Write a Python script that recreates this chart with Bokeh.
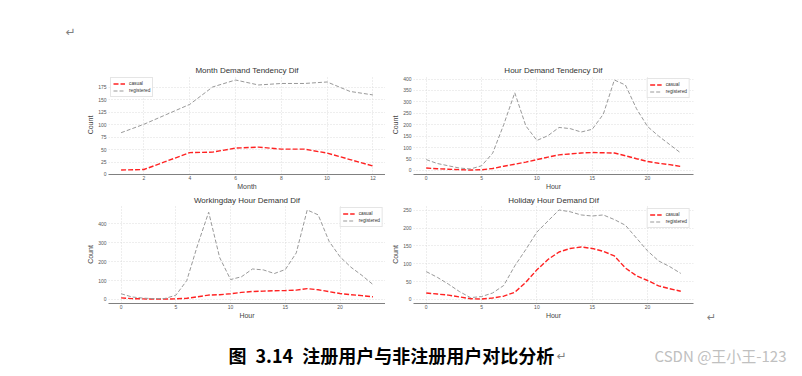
from bokeh.plotting import figure
from bokeh.models import Range1d, FixedTicker, Spacer
from bokeh.layouts import row, column
from bokeh.core.properties import value
from bokeh.embed import file_html
from bokeh.resources import INLINE

# ---------------- data ----------------
months = [1, 2, 3, 4, 5, 6, 7, 8, 9, 10, 11, 12]
month_casual = [9, 10, 27, 44, 45, 53, 55, 51, 51, 43, 30, 17]
month_registered = [84, 101, 121, 141, 176, 190, 180, 183, 183, 186, 167, 160]

hours = list(range(24))
hour_casual = [10, 7, 5, 3, 1.5, 2.5, 8, 18, 27, 36, 47, 58, 68, 72, 76, 78, 77, 76, 64, 51, 39, 31, 25, 17]
hour_registered = [47, 30, 20, 10, 6, 20, 75, 200, 340, 195, 131, 152, 188, 183, 168, 180, 246, 396, 374, 270, 192, 150, 113, 76]

workingday_casual = [8, 4, 3, 2, 2, 3, 6, 14, 23, 25, 30, 37, 42, 44, 46, 47, 49, 57, 51, 41, 31, 25, 20, 14]
workingday_registered = [30, 13, 7, 4, 5, 22, 100, 290, 461, 222, 105, 120, 161, 156, 137, 158, 246, 473, 447, 307, 225, 170, 127, 79]

holiday_casual = [18, 15, 12, 7, 2, 1, 4, 9, 20, 48, 83, 112, 133, 143, 147, 143, 135, 122, 88, 66, 53, 38, 30, 23]
holiday_registered = [78, 62, 43, 22, 5, 8, 18, 39, 94, 140, 189, 220, 251, 246, 237, 234, 237, 224, 208, 172, 136, 108, 92, 73]

month_ticks = [2, 4, 6, 8, 10, 12]
hour_ticks = [0, 5, 10, 15, 20]
tl_yticks = [0, 25, 50, 75, 100, 125, 150, 175]
tr_yticks = [0, 50, 100, 150, 200, 250, 300, 350, 400]
bl_yticks = [0, 100, 200, 300, 400]
br_yticks = [0, 50, 100, 150, 200, 250]

titles = ["Month Demand Tendency Dif", "Hour Demand Tendency Dif",
          "Workingday Hour Demand Dif", "Holiday Hour Demand Dif"]
caption = "图\u20023.14\u2002注册用户与非注册用户对比分析"
watermark = "CSDN @王小王-123"

FONT = "Liberation Sans"


def chart(width, height, bl, br, bt, bb, xs, casual, registered, title,
          xlabel, xticks, yticks, leg_loc, leg_margin):
    dx = max(xs) - min(xs)
    allv = list(casual) + list(registered)
    dy = max(allv) - min(allv)
    p = figure(width=width, height=height,
               x_range=Range1d(min(xs) - 0.05 * dx, max(xs) + 0.05 * dx),
               y_range=Range1d(min(allv) - 0.05 * dy, max(allv) + 0.05 * dy),
               output_backend="svg", toolbar_location=None,
               min_border_left=bl, min_border_right=br,
               min_border_top=bt, min_border_bottom=bb, title=title)
    p.title.align = "center"
    p.title.text_font = FONT
    p.title.text_font_size = "8px"
    p.title.text_font_style = "normal"
    p.title.text_color = "#333333"
    p.title.standoff = 1
    p.title.offset = 0
    p.outline_line_color = None
    p.background_fill_color = "white"

    p.xaxis.ticker = FixedTicker(ticks=xticks)
    p.yaxis.ticker = FixedTicker(ticks=yticks)
    p.xgrid.ticker = FixedTicker(ticks=xticks)
    p.ygrid.ticker = FixedTicker(ticks=yticks)
    for g in (p.xgrid, p.ygrid):
        g.grid_line_color = "#d4d4d4"
        g.grid_line_dash = "1 2"
        g.grid_line_width = 0.8

    for ax in (p.xaxis, p.yaxis):
        ax.major_tick_line_color = None
        ax.minor_tick_line_color = None
        ax.major_tick_out = 0
        ax.major_tick_in = 0
        ax.major_label_text_font = FONT
        ax.major_label_text_font_size = "5px"
        ax.major_label_text_color = "#555555"
        ax.axis_label_text_font = FONT
        ax.axis_label_text_font_size = "7px"
        ax.axis_label_text_font_style = "normal"
        ax.axis_label_text_color = "#444444"
    p.xaxis.axis_label = xlabel
    p.xaxis.axis_line_color = "#808080"
    p.xaxis.axis_line_width = 1.2
    p.xaxis.major_label_standoff = 1
    p.xaxis.axis_label_standoff = 0
    p.yaxis.axis_label = "Count"
    p.yaxis.axis_line_color = None
    p.yaxis.major_label_standoff = 2
    p.yaxis.axis_label_standoff = 1

    p.line(xs, casual, color="#ff2222", line_width=1.4, line_dash="5 2",
           legend_label="casual")
    p.line(xs, registered, color="#999999", line_width=1.0, line_dash="4 2",
           legend_label="registered")

    lg = p.legend[0]
    lg.location = leg_loc
    lg.margin = leg_margin
    lg.label_text_font = FONT
    lg.label_text_font_size = "4.8px"
    lg.label_text_color = "#333333"
    lg.label_height = 7
    lg.glyph_height = 7
    lg.glyph_width = 12
    lg.label_standoff = 4
    lg.padding = 2
    lg.spacing = 0
    lg.border_line_color = "#cccccc"
    lg.border_line_width = 0.8
    lg.background_fill_alpha = 0.9
    return p


def text_fig(w, h):
    p = figure(width=w, height=h, x_range=Range1d(0, w), y_range=Range1d(h, 0),
               x_axis_type=None, y_axis_type=None, output_backend="svg",
               toolbar_location=None, min_border=0, min_border_left=0,
               min_border_right=0, min_border_top=0, min_border_bottom=0)
    p.outline_line_color = None
    return p


# ---------------- layout ----------------
top = text_fig(802, 62)
top.text(x=[70], y=[31], text=["↵"], text_font=value("DejaVu Sans"),
         text_font_size="12px", text_color="#808080", text_align="center",
         text_baseline="middle")

H1, H2, H3 = 131, 131, 52
tl = chart(307, H1, 30, 0, 13, 19, months, month_casual, month_registered,
           titles[0], "Month", month_ticks, tl_yticks, "top_left", 2)
tr = chart(310, H1, 28, 2, 13, 19, hours, hour_casual, hour_registered,
           titles[1], "Hour", hour_ticks, tr_yticks, "top_right", 3)
bl = chart(307, H2, 30, 0, 11, 21, hours, workingday_casual, workingday_registered,
           titles[2], "Hour", hour_ticks, bl_yticks, "top_right", 2)
br = chart(310, H2, 28, 2, 11, 21, hours, holiday_casual, holiday_registered,
           titles[3], "Hour", hour_ticks, br_yticks, "top_right", 3)

side = text_fig(107, H2)
side.text(x=[16], y=[124], text=["↵"], text_font=value("DejaVu Sans"),
          text_font_size="11px", text_color="#808080", text_align="center",
          text_baseline="middle")

bottom = text_fig(802, H3)
bottom.text(x=[228], y=[30], text=[caption], text_font=value("Noto Sans CJK SC"),
            text_font_size="18px", text_font_style="bold", text_color="black",
            text_align="left", text_baseline="middle")
bottom.text(x=[556], y=[31], text=["↵"], text_font=value("DejaVu Sans"),
            text_font_size="12px", text_color="#808080", text_align="left",
            text_baseline="middle")
bottom.text(x=[786], y=[31], text=[watermark], text_font=value("Noto Sans CJK SC"),
            text_font_size="15px", text_color="#c0c0c0", text_align="right",
            text_baseline="middle")

layout = column(
    top,
    row(Spacer(width=78, height=H1), tl, tr, Spacer(width=107, height=H1)),
    row(Spacer(width=78, height=H2), bl, br, column(side)),
    bottom,
)

open("out.html", "w").write(file_html(layout, INLINE))
